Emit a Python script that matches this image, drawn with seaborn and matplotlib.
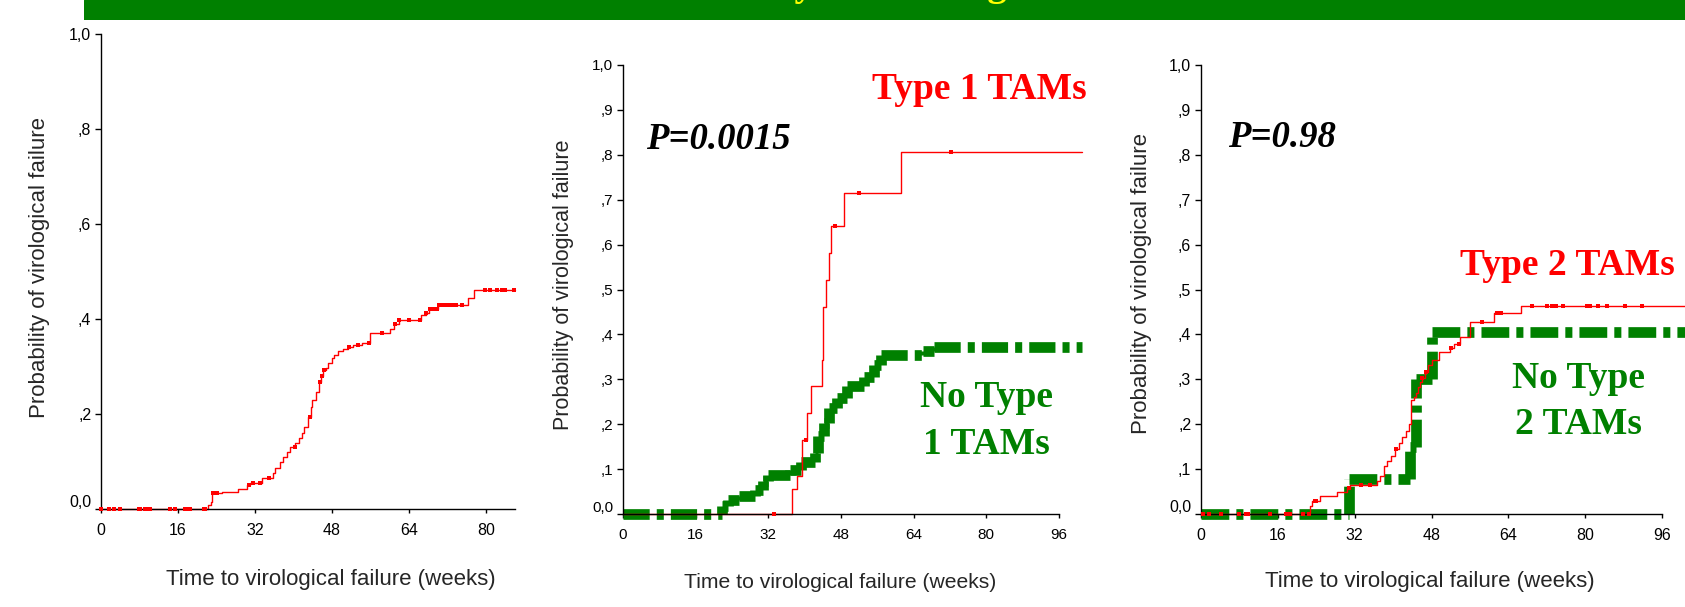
import numpy as np
import pandas as pd
import matplotlib
matplotlib.use("Agg")
import matplotlib.pyplot as plt
import seaborn as sns
from matplotlib.transforms import ScaledTranslation

# ---------------- data ----------------
# Panel 1: all patients (cumulative probability of virological failure)
t_all = [0, 22.3, 22.8, 23.1, 25.1, 28.5, 30.3, 31.0, 33.4, 35.8, 36.1, 37.2, 37.9, 38.6, 39.3,
         40.3, 41.2, 41.7, 42.2, 43.1, 43.6, 43.9, 44.7, 45.2, 45.6, 46.2, 46.7, 47.2, 47.9, 48.4,
         49.3, 50.3, 51.4, 52.4, 54.2, 55.9, 60.0, 60.9, 61.9, 66.5, 67.5, 68.2, 70.1, 76.3, 77.4]
p_all = [0, .008, .015, .033, .036, .042, .051, .055, .065, .075, .086, .100, .110, .121, .131,
         .138, .149, .159, .173, .194, .215, .229, .247, .268, .279, .293, .296, .307, .317, .324,
         .333, .337, .342, .345, .350, .370, .380, .389, .398, .408, .413, .422, .429, .444, .461]
end_all = 86
cens_all = [0.1, 1.7, 2.6, 4.0, 7.8, 8.1, 9.2, 9.8, 10.2, 14.3, 15.4, 17.5, 17.8, 18.5, 21.3, 21.7,
            23.3, 23.6, 24.0, 30.8, 31.6, 33.0, 35.0, 40.2, 43.4, 45.5, 46.0, 46.4, 51.6, 53.3,
            55.7, 58.3, 61.0, 62.0, 64.0, 66.3, 67.5, 68.4, 69.0, 69.7, 70.3, 71.0, 71.6, 72.3,
            72.9, 73.8, 74.9, 79.8, 80.8, 82.2, 83.2, 84.0, 85.7]

# Panel 2: Type 1 TAMs vs No Type 1 TAMs
t_t1 = [0, 37.2, 38.3, 39.4, 40.5, 41.4, 43.8, 44.1, 44.6, 45.3, 45.8, 48.6, 61.3]
p_t1 = [0, .056, .084, .165, .224, .285, .344, .462, .522, .582, .642, .715, .807]
cens_t1 = [33.2, 40.3, 46.7, 51.9, 72.2]
t_no1 = [0, 21.7, 23.2, 25.5, 29.1, 30.9, 32.0, 36.8, 39.3, 42.3, 43.0, 44.2, 45.3, 47.2,
         49.4, 53.0, 55.2, 56.8, 66.0, 68.5]
p_no1 = [0, .017, .032, .041, .054, .073, .086, .099, .115, .136, .173, .202, .236, .258,
         .284, .306, .332, .354, .362, .372]
end_p2 = 101

# Panel 3: Type 2 TAMs vs No Type 2 TAMs
t_t2 = [0, 22.7, 23.1, 24.8, 28.4, 30.4, 31.0, 36.6, 37.2, 38.2, 38.8, 39.6, 40.4, 41.2, 41.9,
        42.7, 43.4, 43.8, 44.3, 44.7, 45.2, 45.7, 46.1, 46.6, 47.3, 48.1, 49.6, 51.8, 52.6, 53.9,
        56.1, 61.0, 66.6]
p_t2 = [0, .017, .030, .039, .048, .059, .065, .074, .085, .106, .119, .130, .144, .158, .171,
        .185, .200, .254, .261, .270, .282, .295, .304, .317, .332, .343, .360, .370, .379, .395,
        .427, .447, .464]
cens_t2 = [0.4, 1.7, 4.1, 7.9, 9.4, 9.8, 14.3, 17.7, 18.6, 21.3, 22.5, 23.7, 24.0, 30.9, 33.3,
           35.2, 40.6, 46.1, 46.8, 52.1, 53.7, 58.5, 61.6, 62.4, 69.0, 72.1, 73.0, 74.0, 75.4,
           80.4, 81.1, 82.6, 84.5, 88.3, 91.8]
t_no2 = [0, 30.8, 43.5, 44.8, 48.2]
p_no2 = [0, .078, .150, .300, .405]
end_p3 = 112

xticks_a = [0, 16, 32, 48, 64, 80]
xticks_b = [0, 16, 32, 48, 64, 80, 96]
yticks_a = [0.0, 0.2, 0.4, 0.6, 0.8, 1.0]
ylabels_a = ["0,0", ",2", ",4", ",6", ",8", "1,0"]
yticks_b = [0.0, 0.1, 0.2, 0.3, 0.4, 0.5, 0.6, 0.7, 0.8, 0.9, 1.0]
ylabels_b = ["0,0", ",1", ",2", ",3", ",4", ",5", ",6", ",7", ",8", ",9", "1,0"]

xlab = "Time to virological failure (weeks)"
ylab = "Probability of virological failure"

# ---------------- style ----------------
sns.set_theme(style="white")
plt.rcParams["font.family"] = ["Liberation Sans", "DejaVu Sans"]

W, H = 1685, 607
fig = plt.figure(figsize=(W / 100, H / 100), dpi=100)
fig.patch.set_facecolor("white")

RED = "#FF0000"
GREEN = "#008000"


def fx(x):
    return x / W


def fy(y):
    return 1 - y / H


def make_ax(x0, x1, ytop, ybot):
    return fig.add_axes([fx(x0), fy(ybot), (x1 - x0) / W, (ybot - ytop) / H])


def km_line(ax, t, p, t_end, color, lw, z):
    x = list(t) + [t_end]
    y = list(p) + [p[-1]]
    df = pd.DataFrame({"t": x, "p": y})
    sns.lineplot(data=df, x="t", y="p", ax=ax, color=color, lw=lw, drawstyle="steps-post",
                 estimator=None, sort=False, clip_on=False, zorder=z)
    return ax.lines[-1]


def km_dashed(ax, t, p, t_end, color, lw, z, pattern):
    # each step segment is its own line so the dash pattern restarts on every segment
    xs = list(t) + [t_end]
    rows = []
    seg = 0
    for i in range(len(t)):
        rows += [(seg, xs[i], p[i]), (seg, xs[i + 1], p[i])]
        seg += 1
        if i + 1 < len(t):
            rows += [(seg, xs[i + 1], p[i]), (seg, xs[i + 1], p[i + 1])]
            seg += 1
    df = pd.DataFrame(rows, columns=["seg", "t", "p"])
    n0 = len(ax.lines)
    sns.lineplot(data=df, x="t", y="p", units="seg", ax=ax, color=color, lw=lw,
                 estimator=None, sort=False, clip_on=False, zorder=z)
    for ln in ax.lines[n0:]:
        ln.set_linestyle((0, pattern))
        ln.set_dash_capstyle("butt")
        ln.set_solid_capstyle("butt")


def censor(ax, t, p, ct, color):
    t = np.asarray(t)
    p = np.asarray(p)
    idx = np.searchsorted(t, ct, side="right") - 1
    cy = p[idx]
    sns.scatterplot(x=ct, y=cy, ax=ax, marker="s", s=7, color=color, linewidth=0,
                    zorder=5, clip_on=False)


def style_ax(ax, xmax, xt, yt, yl, fs):
    ax.set_xlim(0, xmax)
    ax.set_ylim(0, 1)
    ax.set_facecolor("none")
    for s in ["top", "right"]:
        ax.spines[s].set_visible(False)
    for s in ["left", "bottom"]:
        ax.spines[s].set_color("black")
        ax.spines[s].set_linewidth(1.0)
        ax.spines[s].set_zorder(4)
    ax.set_xticks(xt)
    ax.set_xticklabels([str(v) for v in xt])
    ax.set_yticks(yt)
    ax.set_yticklabels(yl)
    ax.tick_params(axis="y", left=True, direction="out", length=4, width=1, color="black",
                   labelsize=fs, pad=3, labelcolor="black")
    ax.tick_params(axis="x", bottom=True, direction="out", length=3, width=1, color="black",
                   labelsize=fs, pad=7, labelcolor="black")
    ax.set_xlabel("")
    ax.set_ylabel("")
    lbl = ax.get_yticklabels()[0]
    lbl.set_transform(lbl.get_transform() + ScaledTranslation(0, 8 / 100, fig.dpi_scale_trans))


# ---------------- banner ----------------
banner = fig.add_axes([fx(84), fy(20), (W - 84) / W, 20 / H])
banner.set_axis_off()
banner.add_patch(plt.Rectangle((0, 0), 1, 1, transform=banner.transAxes, color=GREEN))
fig.text(fx(612), fy(-5), "Outcome by TAM categories", color="#FFFF00", fontsize=28,
         fontweight="bold", family="Liberation Serif", va="baseline", ha="left")

# ---------------- panel 1 ----------------
ax1 = make_ax(101, 515, 34, 509)
km_line(ax1, t_all, p_all, end_all, RED, 1.0, 3)
censor(ax1, t_all, p_all, cens_all, RED)
style_ax(ax1, end_all, xticks_a, yticks_a, ylabels_a, 11.5)
fig.text(fx(331), fy(580), xlab, ha="center", va="center", fontsize=16)
fig.text(fx(40), fy(267), ylab, ha="center", va="center", rotation=90, fontsize=16)

# ---------------- panel 2 ----------------
ax2 = make_ax(623, 1059, 65, 514)
km_dashed(ax2, t_no1, p_no1, end_p2, GREEN, 7.7, 2, (2.45, 0.66, 0.66, 0.66))
km_line(ax2, t_t1, p_t1, end_p2, RED, 1.0, 3)
censor(ax2, t_t1, p_t1, cens_t1, RED)
style_ax(ax2, 96, xticks_b, yticks_b, ylabels_b, 11)
fig.text(fx(840), fy(582), xlab, ha="center", va="center", fontsize=15.2)
fig.text(fx(563), fy(285), ylab, ha="center", va="center", rotation=90, fontsize=15.5)

fig.text(fx(646), fy(149), "P=0.0015", fontsize=26.5, fontweight="bold", fontstyle="italic",
         family="Liberation Serif", color="black", va="baseline", ha="left")
fig.text(fx(872), fy(99), "Type 1 TAMs", fontsize=27, fontweight="bold",
         family="Liberation Serif", color=RED, va="baseline", ha="left")
fig.text(fx(986), fy(454), "No Type\n1 TAMs", fontsize=27, fontweight="bold",
         family="Liberation Serif", color=GREEN, va="baseline", ha="center",
         multialignment="center", linespacing=1.45)

# ---------------- panel 3 ----------------
ax3 = make_ax(1201, 1662, 65, 514)
km_dashed(ax3, t_no2, p_no2, end_p3, GREEN, 7.7, 2, (2.6, 0.66, 0.66, 0.66))
km_line(ax3, t_t2, p_t2, end_p3, RED, 1.0, 3)
censor(ax3, t_t2, p_t2, cens_t2, RED)
style_ax(ax3, 96, xticks_b, yticks_b, ylabels_b, 11.5)
fig.text(fx(1430), fy(582), xlab, ha="center", va="center", fontsize=16)
fig.text(fx(1141), fy(283), ylab, ha="center", va="center", rotation=90, fontsize=16)

fig.text(fx(1228), fy(147), "P=0.98", fontsize=26.5, fontweight="bold", fontstyle="italic",
         family="Liberation Serif", color="black", va="baseline", ha="left")
fig.text(fx(1460), fy(275), "Type 2 TAMs", fontsize=27, fontweight="bold",
         family="Liberation Serif", color=RED, va="baseline", ha="left")
fig.text(fx(1578), fy(434), "No Type\n2 TAMs", fontsize=27, fontweight="bold",
         family="Liberation Serif", color=GREEN, va="baseline", ha="center",
         multialignment="center", linespacing=1.4)

fig.savefig("out.png", dpi=100, facecolor="white")
